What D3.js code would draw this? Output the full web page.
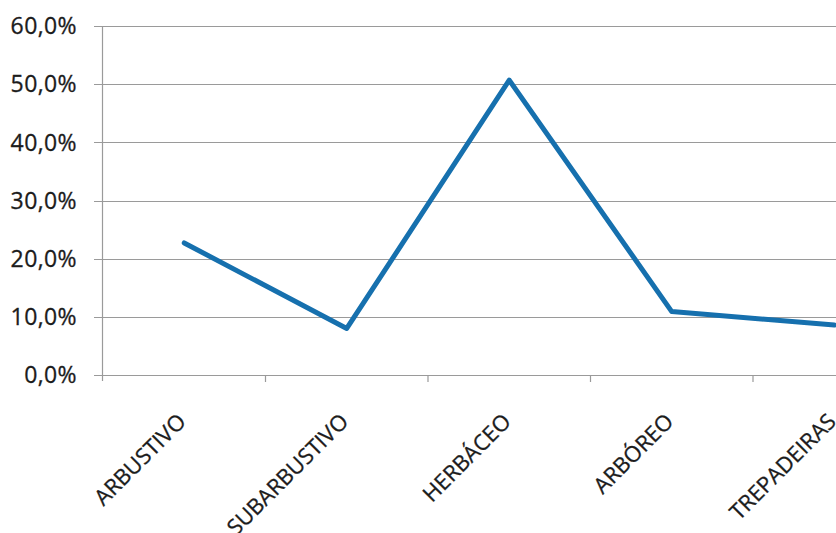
<!DOCTYPE html>
<html>
<head>
<meta charset="utf-8">
<script src="https://cdn.jsdelivr.net/npm/d3@7"></script>
<style>
  body { margin: 0; background: #fff; }
  svg { display: block; }
  .lbl { font-family: "Open Sans", sans-serif; font-size: 22px; fill: #1c1c1c; stroke: #1c1c1c; stroke-width: 0.3px; }
  .ylab { font-size: 23px; letter-spacing: 0.4px; }
</style>
</head>
<body>
<div id="chart"></div>
<script>
// data
var categories = ["ARBUSTIVO", "SUBARBUSTIVO", "HERBÁCEO", "ARBÓREO", "TREPADEIRAS"];
var values = [0.227, 0.080, 0.507, 0.109, 0.086];
var yTicks = [0, 0.1, 0.2, 0.3, 0.4, 0.5, 0.6];

var width = 836, height = 533;
var plotLeft = 103, bandW = 162.5;
var yTop = 26, yBottom = 375;

var svg = d3.select("#chart").append("svg")
  .attr("width", width)
  .attr("height", height);

var x = d3.scaleBand()
  .domain(categories)
  .range([plotLeft, plotLeft + bandW * categories.length]);

var y = d3.scaleLinear()
  .domain([0, 0.6])
  .range([yBottom, yTop]);

var fmt = function(d) { return (d * 100).toFixed(1).replace(".", ",") + "%"; };

// gridlines + y labels
svg.selectAll("line.grid")
  .data(yTicks)
  .enter().append("line")
  .attr("class", "grid")
  .attr("x1", plotLeft - 9)
  .attr("x2", width)
  .attr("y1", function(d) { return Math.round(y(d)) + 0.5; })
  .attr("y2", function(d) { return Math.round(y(d)) + 0.5; })
  .attr("stroke", "#9a9a9a")
  .attr("stroke-width", 1.2);

svg.selectAll("text.ylab")
  .data(yTicks)
  .enter().append("text")
  .attr("class", "lbl ylab")
  .attr("x", 77)
  .attr("y", function(d) { return y(d); })
  .attr("dy", "0.36em")
  .attr("text-anchor", "end")
  .text(fmt);

// y axis line
svg.append("line")
  .attr("x1", plotLeft - 0.5).attr("x2", plotLeft - 0.5)
  .attr("y1", yTop).attr("y2", yBottom + 6)
  .attr("stroke", "#9a9a9a")
  .attr("stroke-width", 1.2);

// category tick marks
var tickPos = categories.map(function(c) { return x(c); });
svg.selectAll("line.xtick")
  .data(tickPos.slice(1))
  .enter().append("line")
  .attr("class", "xtick")
  .attr("x1", function(d) { return d; })
  .attr("x2", function(d) { return d; })
  .attr("y1", yBottom)
  .attr("y2", yBottom + 7)
  .attr("stroke", "#9a9a9a")
  .attr("stroke-width", 1.2);

// x labels, rotated
svg.selectAll("text.xlab")
  .data(categories)
  .enter().append("text")
  .attr("class", "lbl xlab")
  .attr("text-anchor", "end")
  .attr("transform", function(d) {
    var cx = x(d) + x.bandwidth() / 2;
    return "translate(" + (cx + 3) + "," + (yBottom + 48) + ") rotate(-45)";
  })
  .text(function(d) { return d; });

// the series
var line = d3.line()
  .x(function(d, i) { return x(categories[i]) + x.bandwidth() / 2; })
  .y(function(d) { return y(d); });

svg.append("path")
  .datum(values)
  .attr("d", line)
  .attr("fill", "none")
  .attr("stroke", "#1670ae")
  .attr("stroke-width", 5)
  .attr("stroke-linejoin", "round")
  .attr("stroke-linecap", "round");
</script>
</body>
</html>
